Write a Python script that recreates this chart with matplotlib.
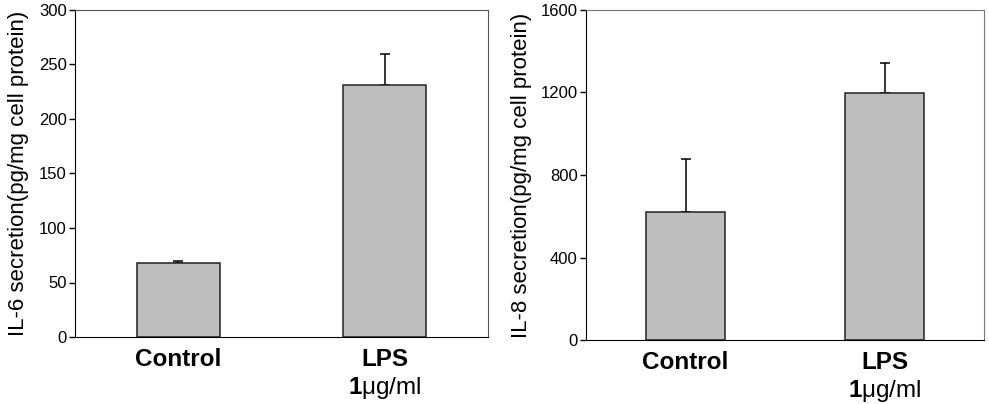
import matplotlib.pyplot as plt
import numpy as np

plt.rcParams['font.family'] = ['Liberation Sans', 'DejaVu Sans']
plt.rcParams['mathtext.fontset'] = 'custom'
plt.rcParams['mathtext.bf'] = 'Liberation Sans:bold'
plt.rcParams['mathtext.rm'] = 'Liberation Sans'

# Data
groups = ['Control', 'LPS']
il6_mean = [67.5, 231]
il6_err = [2, 29]
il8_mean = [620, 1198]
il8_err = [258, 143]

bar_color = '#bebebe'

fig = plt.figure(figsize=(9.89, 4.04), dpi=100)
ax1 = fig.add_axes([75 / 989, 67 / 404, 413 / 989, 327 / 404])
ax2 = fig.add_axes([586 / 989, 64 / 404, 398 / 989, 330 / 404])


def draw_panel(ax, means, errs, ymax, yticks, ylabel, frame_color, lpad):
    x = np.arange(len(groups))
    ax.bar(x, means, width=0.40, color=bar_color, edgecolor='#222222',
           linewidth=1.1, zorder=2)
    ax.errorbar(x, means, yerr=[np.zeros(len(errs)), errs], fmt='none',
                ecolor='black', elinewidth=1.1, capsize=3.5, capthick=1.1,
                zorder=1)
    ax.set_xlim(-0.5, 1.5)
    ax.set_ylim(0, ymax)
    ax.set_yticks(yticks)
    ax.tick_params(axis='y', direction='out', length=4, width=1,
                   labelsize=12, pad=2)
    ax.set_xticks(x)
    ax.set_xticklabels(groups, fontsize=17.5, fontweight='bold')
    ax.tick_params(axis='x', length=0, pad=8)
    ax.set_ylabel(ylabel, fontsize=16, labelpad=lpad)
    ax.spines['left'].set_color('black')
    ax.spines['bottom'].set_color('black')
    ax.spines['top'].set_color(frame_color)
    ax.spines['right'].set_color(frame_color)
    ax.annotate(r'$\mathbf{1}$μg/ml', xy=(1, 0),
                xycoords=('data', 'axes fraction'), xytext=(0, -37),
                textcoords='offset points', ha='center', va='center',
                fontsize=17.5)


draw_panel(ax1, il6_mean, il6_err, 300, [0, 50, 100, 150, 200, 250, 300],
           'IL-6 secretion(pg/mg cell protein)', '#555555', 7)
draw_panel(ax2, il8_mean, il8_err, 1600, [0, 400, 800, 1200, 1600],
           'IL-8 secretion(pg/mg cell protein)', '#777777', 6)

fig.savefig('out.png', dpi=100)
